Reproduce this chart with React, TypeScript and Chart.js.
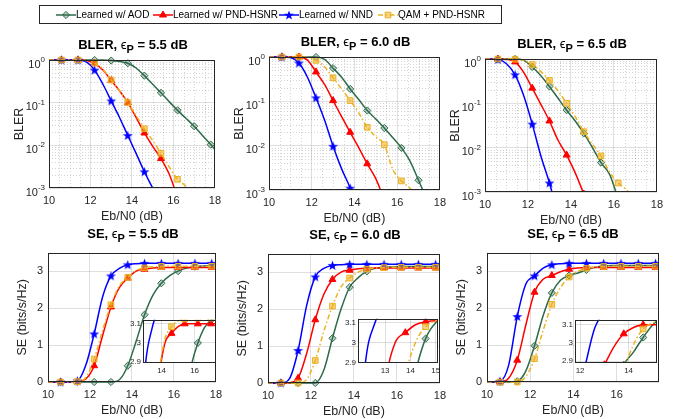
import React, { useEffect, useRef } from 'react';
import { Chart, registerables } from 'chart.js';

Chart.register(...registerables);

const FONT = '"Liberation Sans", Arial, Helvetica, sans-serif';
Chart.defaults.font.family = FONT;
const INK = '#262626';
const GRID = 'rgba(38,38,38,0.15)';
const MINOR = 'rgba(38,38,38,0.20)';

// ---------------- data ----------------
const ebn0 = [10.0, 10.6, 11.0, 11.4, 11.8, 12.2, 12.6, 13.0, 13.4, 13.8, 14.2, 14.6, 15.0, 15.4, 15.8, 16.2, 16.6, 17.0, 17.4, 17.8, 18.0];
const markerEbn0 = [10.6, 11.4, 12.2, 13.0, 13.8, 14.6, 15.4, 16.2, 17.0, 17.8];
const seriesNames = ['Learned w/ AOD', 'Learned w/ PND-HSNR', 'Learned w/ NND', 'QAM + PND-HSNR'];
const epsLabels = ['5.5', '6.0', '6.5'];

// BLER, eps_P = 5.5 dB
const bler55Aod = [1, 1, 1, 1, 1, 1, 0.995, 0.97, 0.92, 0.84, 0.65, 0.43, 0.27, 0.17, 0.105, 0.066, 0.043, 0.028, 0.017, 0.0104, 0.008];
const bler55Pnd = [1, 1, 1, 1, 0.97, 0.82, 0.58, 0.33, 0.19, 0.1, 0.045, 0.0195, 0.0095, 0.0049, 0.0021, 0.0006, null, null, null, null, null];
const bler55Nnd = [1, 1, 1, 1, 0.9, 0.58, 0.27, 0.11, 0.045, 0.017, 0.0065, 0.0024, 0.001, 0.0004, null, null, null, null, null, null, null];
const bler55Qam = [1, 1, 1, 1, 0.97, 0.85, 0.6, 0.34, 0.19, 0.1, 0.05, 0.0245, 0.013, 0.0065, 0.0031, 0.0016, 0.0011, 0.0006, null, null, null];

// BLER, eps_P = 6.0 dB
const bler60Aod = [1, 1, 1, 1, 1, 1, 0.88, 0.56, 0.35, 0.19, 0.11, 0.062, 0.04, 0.025, 0.015, 0.0089, 0.0045, 0.00166, 0.0006, null, null];
const bler60Pnd = [1, 1, 1, 1, 0.85, 0.46, 0.24, 0.104, 0.045, 0.02, 0.009, 0.0039, 0.0018, 0.0006, null, null, null, null, null, null, null];
const bler60Nnd = [1, 1, 0.97, 0.73, 0.35, 0.12, 0.038, 0.0097, 0.003, 0.0011, 0.0003, null, null, null, null, null, null, null, null, null, null];
const bler60Qam = [1, 1, 1, 1, 0.98, 0.84, 0.6, 0.34, 0.19, 0.104, 0.055, 0.026, 0.016, 0.0105, 0.0029, 0.0016, 0.0011, 0.0006, null, null, null];

// BLER, eps_P = 6.5 dB
const bler65Aod = [1, 1, 1, 1, 0.93, 0.66, 0.42, 0.24, 0.13, 0.07, 0.04, 0.021, 0.01, 0.0046, 0.0025, 0.0007, null, null, null, null, null];
const bler65Pnd = [1, 1, 0.98, 0.86, 0.5, 0.22, 0.095, 0.04, 0.0147, 0.0068, 0.0027, 0.0009, 0.0003, null, null, null, null, null, null, null, null];
const bler65Nnd = [1, 0.97, 0.78, 0.44, 0.15, 0.034, 0.0065, 0.0016, 0.0003, null, null, null, null, null, null, null, null, null, null, null, null];
const bler65Qam = [1, 1, 1, 0.99, 0.93, 0.75, 0.52, 0.33, 0.19, 0.1, 0.05, 0.023, 0.012, 0.0065, 0.0028, 0.0016, 0.0011, 0.0006, null, null, null];

// SE, eps_P = 5.5 dB
const se55Aod = [0, 0, 0, 0, 0, 0, 0, 0, 0.06, 0.44, 1.1, 1.82, 2.35, 2.67, 2.88, 3.0, 3.08, 3.12, 3.14, 3.15, 3.15];
const se55Pnd = [0, 0, 0, 0.01, 0.08, 0.44, 1.25, 2.03, 2.55, 2.81, 3.0, 3.05, 3.085, 3.1, 3.1, 3.1, 3.1, 3.1, 3.1, 3.1, 3.1];
const se55Nnd = [0, 0, 0, 0.03, 0.45, 1.3, 2.3, 2.87, 3.07, 3.17, 3.2, 3.21, 3.21, 3.21, 3.21, 3.21, 3.21, 3.21, 3.21, 3.21, 3.21];
const se55Qam = [0, 0, 0, 0.01, 0.12, 0.62, 1.4, 2.09, 2.6, 2.83, 3.02, 3.085, 3.115, 3.125, 3.13, 3.13, 3.13, 3.13, 3.13, 3.13, 3.13];

// SE, eps_P = 6.0 dB
const se60Aod = [0, 0, 0, 0, 0, 0, 0.35, 1.21, 2.0, 2.59, 2.85, 3.02, 3.1, 3.13, 3.14, 3.15, 3.15, 3.15, 3.15, 3.15, 3.15];
const se60Pnd = [0, 0, 0.01, 0.13, 0.8, 1.71, 2.4, 2.8, 3.0, 3.05, 3.09, 3.105, 3.11, 3.11, 3.11, 3.11, 3.11, 3.11, 3.11, 3.11, 3.11];
const se60Nnd = [0, 0, 0.12, 0.88, 2.1, 2.87, 3.1, 3.18, 3.2, 3.21, 3.21, 3.21, 3.21, 3.21, 3.21, 3.21, 3.21, 3.21, 3.21, 3.21, 3.21];
const se60Qam = [0, 0, 0, 0, 0.1, 0.61, 1.4, 2.08, 2.6, 2.84, 3.0, 3.08, 3.11, 3.12, 3.13, 3.13, 3.13, 3.13, 3.13, 3.13, 3.13];

// SE, eps_P = 6.5 dB
const se65Aod = [0, 0, 0, 0.02, 0.3, 0.98, 1.8, 2.41, 2.75, 2.88, 2.95, 3.03, 3.1, 3.14, 3.15, 3.15, 3.15, 3.15, 3.15, 3.15, 3.15];
const se65Pnd = [0, 0, 0.1, 0.59, 1.55, 2.43, 2.78, 2.88, 2.98, 3.05, 3.085, 3.1, 3.1, 3.1, 3.1, 3.1, 3.1, 3.1, 3.1, 3.1, 3.1];
const se65Nnd = [0, 0.02, 0.45, 1.77, 2.65, 2.87, 3.08, 3.17, 3.2, 3.21, 3.21, 3.21, 3.21, 3.21, 3.21, 3.21, 3.21, 3.21, 3.21, 3.21, 3.21];
const se65Qam = [0, 0, 0, 0, 0.15, 0.63, 1.4, 2.1, 2.55, 2.84, 2.99, 3.077, 3.11, 3.125, 3.13, 3.13, 3.13, 3.13, 3.13, 3.13, 3.13];

// ticks
const xTickVals = [10, 12, 14, 16, 18];
const xMinorVals = [10.5, 11, 11.5, 12.5, 13, 13.5, 14.5, 15, 15.5, 16.5, 17, 17.5];
const blerTickVals = [0.001, 0.01, 0.1, 1];
const blerTickExps = ['-3', '-2', '-1', '0'];
const blerMinorVals = [0.002, 0.003, 0.004, 0.005, 0.006, 0.007, 0.008, 0.009, 0.02, 0.03, 0.04, 0.05, 0.06, 0.07, 0.08, 0.09, 0.2, 0.3, 0.4, 0.5, 0.6, 0.7, 0.8, 0.9];
const seTickVals = [0, 1, 2, 3];
const insetYTickVals = [2.9, 3.0, 3.1];
const insetYTickLabels = ['2.9', '3', '3.1'];
const inset55XTicks = [14, 16];
const inset60XTicks = [13, 14, 15];
const inset65XTicks = [12, 14];

// ---------------- styles & layout ----------------
const seriesStyle = [
  { color: '#2D6A4A', fill: 'rgba(45,106,74,0.30)', point: 'rectRot', r: 3.6, dash: [] as number[] },
  { color: '#FF0000', fill: '#FF0000', point: 'triangle', r: 4, dash: [] as number[] },
  { color: '#0000FF', fill: '#0000FF', point: 'star', r: 5, dash: [] as number[] },
  { color: '#EDB120', fill: 'rgba(237,177,32,0.55)', point: 'rect', r: 4, dash: [5, 2.5, 1.5, 2.5] },
];

const panels = [
  { kind: 'bler', eps: 0, L: 49, T: 60, W: 168, H: 128, xMax: 18, series: [bler55Aod, bler55Pnd, bler55Nnd, bler55Qam] },
  { kind: 'bler', eps: 1, L: 269, T: 57, W: 173, H: 133, xMax: 18, series: [bler60Aod, bler60Pnd, bler60Nnd, bler60Qam] },
  { kind: 'bler', eps: 2, L: 485, T: 59, W: 174, H: 133, xMax: 18, series: [bler65Aod, bler65Pnd, bler65Nnd, bler65Qam] },
  { kind: 'se', eps: 0, L: 48, T: 249, W: 170, H: 133, xMax: 18, series: [se55Aod, se55Pnd, se55Nnd, se55Qam] },
  { kind: 'se', eps: 1, L: 268, T: 250, W: 174, H: 133, xMax: 18, series: [se60Aod, se60Pnd, se60Nnd, se60Qam] },
  { kind: 'se', eps: 2, L: 487, T: 249, W: 172, H: 133, xMax: 17.96, series: [se65Aod, se65Pnd, se65Nnd, se65Qam] },
];

const insets = [
  { L: 143, T: 319, W: 73, H: 44, xMin: 12.87, xMax: 17.3, xTicks: inset55XTicks, yMin: 2.895, yMax: 3.121, series: panels[3].series },
  { L: 358, T: 318, W: 80, H: 45, xMin: 11.93, xMax: 15.09, xTicks: inset60XTicks, yMin: 2.897, yMax: 3.12, series: panels[4].series },
  { L: 575, T: 319, W: 82, H: 44, xMin: 11.79, xMax: 15.17, xTicks: inset65XTicks, yMin: 2.89, yMax: 3.127, series: panels[5].series },
];

const YW = 45, PT = 8, PR = 10, XH = 36;
const IYW = 18, IPT = 6, IPR = 6, IXH = 14;

let starCache: HTMLCanvasElement | null = null;
function starImage() {
  if (starCache) return starCache;
  const size = 11;
  const c = document.createElement('canvas');
  c.width = size; c.height = size;
  const g = c.getContext('2d')!;
  const cx = size / 2, cy = size / 2 + 0.4, R = size / 2 - 0.3, r = R * 0.42;
  g.beginPath();
  for (let k = 0; k < 10; k++) {
    const ang = -Math.PI / 2 + (k * Math.PI) / 5;
    const rad = k % 2 === 0 ? R : r;
    g.lineTo(cx + rad * Math.cos(ang), cy + rad * Math.sin(ang));
  }
  g.closePath();
  g.fillStyle = '#0000FF';
  g.fill();
  starCache = c;
  return c;
}

function isMarker(idx: number, ys: (number | null)[]) {
  if (ys[idx] === null || ys[idx] === undefined) return false;
  const x = ebn0[idx];
  return markerEbn0.some((m) => Math.abs(m - x) < 1e-6);
}

function makeDataset(i: number, ys: (number | null)[], clip: any) {
  const st = seriesStyle[i];
  return {
    label: seriesNames[i],
    data: ebn0.map((x, k) => ({ x, y: ys[k] })),
    borderColor: st.color,
    backgroundColor: st.fill,
    borderWidth: 1.5,
    borderDash: st.dash,
    pointStyle: st.point === 'star' ? starImage() : st.point,
    pointRadius: (ctx: any) => (isMarker(ctx.dataIndex, ys) ? st.r : 0),
    pointHoverRadius: 0,
    pointBorderColor: st.color,
    pointBackgroundColor: st.fill,
    pointBorderWidth: 1,
    cubicInterpolationMode: 'monotone',
    spanGaps: false,
    fill: false,
    order: 3 - i,
    clip,
  };
}

const framePlugin = {
  id: 'frame',
  beforeDraw(chart: any, _a: any, opts: any) {
    if (!opts || !opts.bg) return;
    const { ctx, chartArea: a } = chart;
    ctx.save();
    ctx.fillStyle = opts.bg;
    ctx.fillRect(a.left, a.top, a.right - a.left, a.bottom - a.top);
    ctx.restore();
  },
  beforeDatasetsDraw(chart: any, _a: any, opts: any) {
    const { ctx, chartArea: a, scales } = chart;
    ctx.save();
    ctx.strokeStyle = MINOR;
    ctx.lineWidth = 1;
    ctx.setLineDash([1, 2]);
    for (const v of (opts && opts.minorX) || []) {
      const px = Math.round(scales.x.getPixelForValue(v)) + 0.5;
      ctx.beginPath(); ctx.moveTo(px, a.top); ctx.lineTo(px, a.bottom); ctx.stroke();
    }
    for (const v of (opts && opts.minorY) || []) {
      const py = Math.round(scales.y.getPixelForValue(v)) + 0.5;
      ctx.beginPath(); ctx.moveTo(a.left, py); ctx.lineTo(a.right, py); ctx.stroke();
    }
    ctx.restore();
  },
  afterDatasetsDraw(chart: any, _a: any, opts: any) {
    const { ctx, chartArea: a, scales } = chart;
    ctx.save();
    ctx.setLineDash([]);
    ctx.strokeStyle = INK;
    ctx.lineWidth = 1;
    ctx.strokeRect(Math.round(a.left) + 0.5, Math.round(a.top) + 0.5, Math.round(a.right - a.left) - 1, Math.round(a.bottom - a.top) - 1);
    if (opts && opts.expVals) {
      const ys = scales.y;
      const xr = a.left - 4;
      ctx.fillStyle = INK;
      opts.expVals.forEach((v: number, k: number) => {
        const py = ys.getPixelForValue(v);
        const exp = opts.expTexts[k];
        ctx.font = `8px ${FONT}`;
        const ew = ctx.measureText(exp).width;
        ctx.textAlign = 'left';
        ctx.textBaseline = 'alphabetic';
        ctx.fillText(exp, xr - ew, py + 2);
        ctx.font = `11px ${FONT}`;
        ctx.textAlign = 'right';
        ctx.fillText('10', xr - ew, py + 7.5);
      });
    }
    ctx.restore();
  },
};

function mainConfig(p: any) {
  const isLog = p.kind === 'bler';
  const clip = isLog ? { left: 0, top: 6, right: 0, bottom: 0 } : { left: 0, top: 0, right: 0, bottom: 6 };
  const tickFont = { size: 11, family: FONT };
  const titleFont = { size: 12.5, family: FONT };
  const yScale = isLog
    ? {
        type: 'logarithmic', min: 0.001, max: 1,
        afterBuildTicks: (ax: any) => { ax.ticks = blerTickVals.map((v) => ({ value: v })); },
        afterFit: (s: any) => { s.width = YW; },
        grid: { color: GRID, lineWidth: 1, drawTicks: false },
        border: { display: false },
        ticks: { display: false },
        title: { display: true, text: 'BLER', color: INK, font: titleFont, padding: { top: 8.3, bottom: 0 } },
      }
    : {
        type: 'linear', min: 0, max: 3.5,
        afterBuildTicks: (ax: any) => { ax.ticks = seTickVals.map((v) => ({ value: v })); },
        afterFit: (s: any) => { s.width = YW; },
        grid: { color: GRID, lineWidth: 1, drawTicks: false },
        border: { display: false },
        ticks: { color: INK, font: tickFont, padding: 5, callback: (v: any) => String(v) },
        title: { display: true, text: 'SE (bits/s/Hz)', color: INK, font: titleFont, padding: { top: 11.7, bottom: 0 } },
      };
  return {
    type: 'line',
    data: { datasets: p.series.map((ys: any, i: number) => makeDataset(i, ys, clip)) },
    options: {
      animation: false,
      responsive: false,
      devicePixelRatio: 1,
      events: [],
      layout: { padding: { left: 0, top: PT, right: PR, bottom: 0 } },
      plugins: {
        legend: { display: false },
        tooltip: { enabled: false },
        title: { display: false },
        frame: isLog
          ? { minorX: xMinorVals, minorY: blerMinorVals, expVals: blerTickVals, expTexts: blerTickExps }
          : {},
      },
      scales: {
        x: {
          type: 'linear', min: 10, max: p.xMax,
          afterBuildTicks: (ax: any) => { ax.ticks = xTickVals.filter((v) => v <= p.xMax + 1e-9).map((v) => ({ value: v })); },
          afterFit: (s: any) => { s.height = XH; },
          grid: { color: GRID, lineWidth: 1, drawTicks: false },
          border: { display: false },
          ticks: { color: INK, font: tickFont, padding: 6, autoSkip: false, maxRotation: 0, minRotation: 0, callback: (v: any) => String(v) },
          title: { display: true, text: 'Eb/N0 (dB)', color: INK, font: titleFont, padding: { top: 0, bottom: 0 } },
        },
        y: yScale,
      },
    },
    plugins: [framePlugin],
  };
}

function insetConfig(p: any) {
  const clip = { left: 0, top: 0, right: 0, bottom: 0 };
  const tickFont = { size: 8, family: FONT };
  return {
    type: 'line',
    data: { datasets: p.series.map((ys: any, i: number) => makeDataset(i, ys, clip)) },
    options: {
      animation: false,
      responsive: false,
      devicePixelRatio: 1,
      events: [],
      layout: { padding: { left: 0, top: IPT, right: IPR, bottom: 0 } },
      plugins: { legend: { display: false }, tooltip: { enabled: false }, title: { display: false }, frame: { bg: '#ffffff' } },
      scales: {
        x: {
          type: 'linear', min: p.xMin, max: p.xMax,
          afterBuildTicks: (ax: any) => { ax.ticks = p.xTicks.map((v: number) => ({ value: v })); },
          afterFit: (s: any) => { s.height = IXH; },
          grid: { color: GRID, lineWidth: 1, drawTicks: false },
          border: { display: false },
          ticks: { color: INK, font: tickFont, padding: 3, autoSkip: false, maxRotation: 0, minRotation: 0, callback: (v: any) => String(v) },
        },
        y: {
          type: 'linear', min: p.yMin, max: p.yMax,
          afterBuildTicks: (ax: any) => { ax.ticks = insetYTickVals.map((v) => ({ value: v })); },
          afterFit: (s: any) => { s.width = IYW; },
          grid: { color: GRID, lineWidth: 1, drawTicks: false },
          border: { display: false },
          ticks: {
            color: INK, font: tickFont, padding: 2,
            callback: (v: any) => {
              const k = insetYTickVals.findIndex((t) => Math.abs(t - v) < 1e-9);
              return k >= 0 ? insetYTickLabels[k] : '';
            },
          },
        },
      },
    },
    plugins: [framePlugin],
  };
}

function ChartCanvas({ left, top, width, height, make }: any) {
  const ref = useRef<HTMLCanvasElement | null>(null);
  useEffect(() => {
    if (!ref.current) return;
    const chart = new Chart(ref.current, make());
    return () => chart.destroy();
  }, []);
  return (
    <canvas
      ref={ref}
      width={width}
      height={height}
      style={{ position: 'absolute', left, top, width, height, display: 'block' }}
    />
  );
}

function LegendGlyph({ i }: { i: number }) {
  const st = seriesStyle[i];
  const cx = 10, cy = 6;
  let m: any = null;
  if (i === 0) {
    m = <polygon points={`${cx},${cy - 3.6} ${cx + 3.6},${cy} ${cx},${cy + 3.6} ${cx - 3.6},${cy}`} fill={st.fill} stroke={st.color} strokeWidth={1} />;
  } else if (i === 1) {
    m = <polygon points={`${cx},${cy - 4} ${cx + 3.5},${cy + 2} ${cx - 3.5},${cy + 2}`} fill={st.fill} stroke={st.color} strokeWidth={1} />;
  } else if (i === 2) {
    const pts: string[] = [];
    for (let k = 0; k < 10; k++) {
      const ang = -Math.PI / 2 + (k * Math.PI) / 5;
      const rad = k % 2 === 0 ? 5 : 2.1;
      pts.push(`${(cx + rad * Math.cos(ang)).toFixed(2)},${(cy + 0.4 + rad * Math.sin(ang)).toFixed(2)}`);
    }
    m = <polygon points={pts.join(' ')} fill={st.fill} />;
  } else {
    m = <rect x={cx - 2.8} y={cy - 2.8} width={5.6} height={5.6} fill={st.fill} stroke={st.color} strokeWidth={1} />;
  }
  return (
    <svg width={20} height={12} style={{ display: 'block' }}>
      <line x1={0} y1={cy} x2={20} y2={cy} stroke={st.color} strokeWidth={1.5} strokeDasharray={st.dash.length ? st.dash.join(' ') : undefined} />
      {m}
    </svg>
  );
}

const legendX = [56, 153, 279, 378];

function Legend() {
  return (
    <div style={{ position: 'absolute', left: 39, top: 5, width: 463, height: 19, border: `1px solid ${INK}`, boxSizing: 'border-box', background: '#fff' }}>
      {seriesNames.map((name, i) => (
        <div key={i} style={{ position: 'absolute', left: legendX[i] - 40, top: 0, height: 17, display: 'flex', alignItems: 'center', whiteSpace: 'nowrap' }}>
          <LegendGlyph i={i} />
          <span style={{ fontSize: 10, fontFamily: FONT, color: '#000', lineHeight: '12px' }}>{name}</span>
        </div>
      ))}
    </div>
  );
}

function PanelTitle({ p }: any) {
  return (
    <div style={{ position: 'absolute', left: p.L - 10, top: p.T - 23, width: p.W + 20, textAlign: 'center', fontFamily: FONT, fontWeight: 700, fontSize: 13, lineHeight: '16px', color: '#000', whiteSpace: 'nowrap' }}>
      {p.kind === 'bler' ? 'BLER' : 'SE'}, <span style={{ fontWeight: 400 }}>ϵ</span>
      <span style={{ position: 'relative', top: 4, fontSize: 11 }}>P</span> = {epsLabels[p.eps]} dB
    </div>
  );
}

export default function App() {
  return (
    <div style={{ position: 'absolute', left: 0, top: 0, width: 688, height: 419, background: '#fff', overflow: 'hidden' }}>
      {panels.map((p, i) => (
        <ChartCanvas key={'m' + i} left={p.L - YW} top={p.T - PT} width={YW + p.W + PR} height={PT + p.H + XH} make={() => mainConfig(p)} />
      ))}
      {insets.map((p, i) => (
        <ChartCanvas key={'i' + i} left={p.L - IYW} top={p.T - IPT} width={IYW + p.W + IPR} height={IPT + p.H + IXH} make={() => insetConfig(p)} />
      ))}
      {panels.map((p, i) => (
        <PanelTitle key={'t' + i} p={p} />
      ))}
      <Legend />
    </div>
  );
}
